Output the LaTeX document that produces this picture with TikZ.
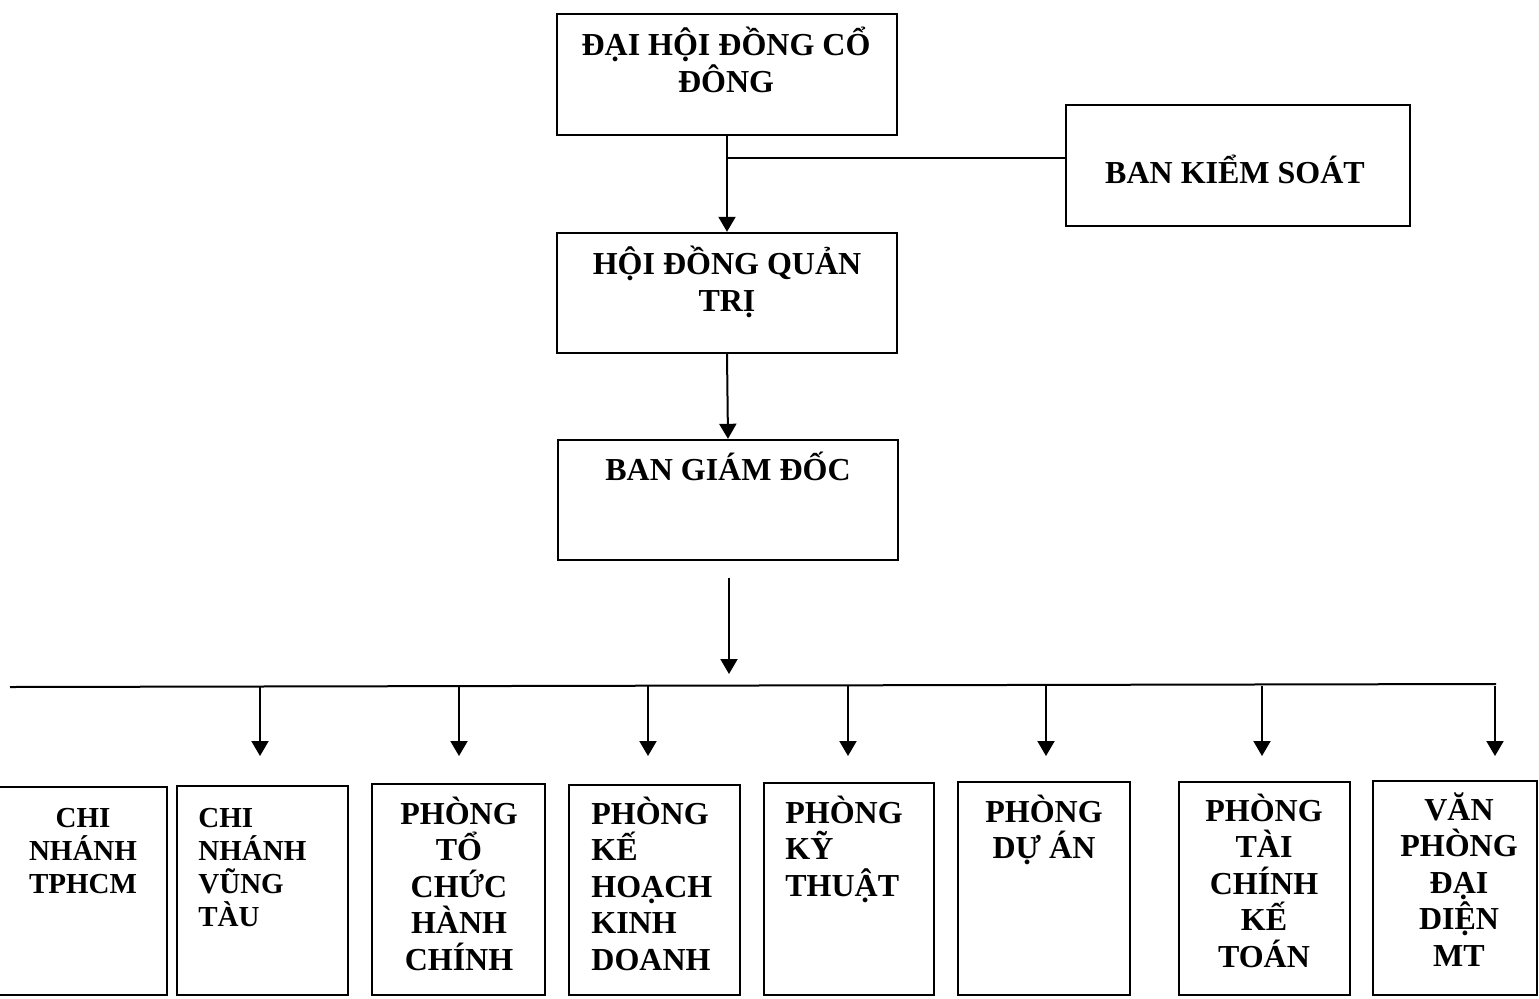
\documentclass[tikz,border=0pt]{standalone}
\usepackage{fontspec}
\setmainfont{Liberation Serif}
\usetikzlibrary{arrows.meta,calc}
\begin{document}
\begin{tikzpicture}[x=0.5pt,y=-0.5pt,
  box/.style={draw=black,line width=1.2pt,rectangle,inner sep=0pt},
  big/.style={font=\fontsize{16}{18.25}\selectfont\bfseries,inner sep=0pt,anchor=base},
  small/.style={font=\fontsize{14.5}{16.5}\selectfont\bfseries,inner sep=0pt,anchor=base},
  conn/.style={line width=1pt},
  arr/.style={line width=1pt,-{Triangle[width=8.5pt,length=7.5pt]}}]
\useasboundingbox (0,0) rectangle (1539,998);
\clip (0,0) rectangle (1539,998);
% top boxes
\node[box,minimum width=170pt,minimum height=60.5pt] (dhcd) at (727,74.5) {};
\node[box,minimum width=172pt,minimum height=60.5pt] (bks) at (1238,165.5) {};
\node[box,minimum width=170pt,minimum height=60pt] (hdqt) at (727,293) {};
\node[box,minimum width=170pt,minimum height=60pt] (bgd) at (728,500) {};
% (multi-line text nodes are anchored at the baseline of their last line)
\node[big,align=center] (tdhcd) at (726,92) {ĐẠI HỘI ĐỒNG CỔ\\ĐÔNG};
\node[big] (tbks) at (1235,183) {BAN KIỂM SOÁT};
\node[big,align=center] (thdqt) at (727,311) {HỘI ĐỒNG QUẢN\\TRỊ};
\node[big] (tbgd) at (728,480) {BAN GIÁM ĐỐC};
% connectors top
\draw[arr] (dhcd.south) -- (hdqt.north);
\coordinate (j1) at (727,158);
\draw[conn] (j1) -- (j1 -| bks.west);
\draw[arr] (hdqt.south) -- (bgd.north);
\coordinate (s1) at (729,578);
\coordinate (s2) at (729,674);
\draw[arr] (s1) -- (s2);
% bus
\coordinate (busL) at (10,687);
\coordinate (busR) at (1496,684);
\draw[conn] (busL) -- (busR);
% bottom boxes
\node[box,minimum width=97pt,minimum height=104pt] (b1) at (70,891) {};
\node[box,minimum width=85.5pt,minimum height=104.5pt] (b2) at (262.5,890.5) {};
\node[box,minimum width=86.5pt,minimum height=105.5pt] (b3) at (458.5,889.5) {};
\node[box,minimum width=85.5pt,minimum height=105pt] (b4) at (654.5,890) {};
\node[box,minimum width=85pt,minimum height=106pt] (b5) at (849,889) {};
\node[box,minimum width=86pt,minimum height=106.5pt] (b6) at (1044,888.5) {};
\node[box,minimum width=85.5pt,minimum height=106.5pt] (b7) at (1264.5,888.5) {};
\node[box,minimum width=82pt,minimum height=107pt] (b8) at (1455,888) {};
% bottom texts
\node[small,align=center] (t1) at (83,893) {CHI\\NHÁNH\\TPHCM};
\node[small,align=left,anchor=base west] (t2) at (198,926) {CHI\\NHÁNH\\VŨNG\\TÀU};
\node[big,align=center] (t3) at (459,970) {PHÒNG\\TỔ\\CHỨC\\HÀNH\\CHÍNH};
\node[big,align=left,anchor=base west] (t4) at (591,970) {PHÒNG\\KẾ\\HOẠCH\\KINH\\DOANH};
\node[big,align=left,anchor=base west] (t5) at (785,896) {PHÒNG\\KỸ\\THUẬT};
\node[big,align=center] (t6) at (1044,858.5) {PHÒNG\\DỰ ÁN};
\node[big,align=center] (t7) at (1264,967) {PHÒNG\\TÀI\\CHÍNH\\KẾ\\TOÁN};
\node[big,align=center] (t8) at (1459,966) {VĂN\\PHÒNG\\ĐẠI\\DIỆN\\MT};
% drops
\foreach \n/\x in {2/260,3/459,4/648,5/848,6/1046,7/1262,8/1495}{
  \coordinate (d\n) at (\x,686);
  \coordinate (e\n) at (\x,756);
  \draw[arr] (d\n) -- (e\n);
}
\end{tikzpicture}
\end{document}
